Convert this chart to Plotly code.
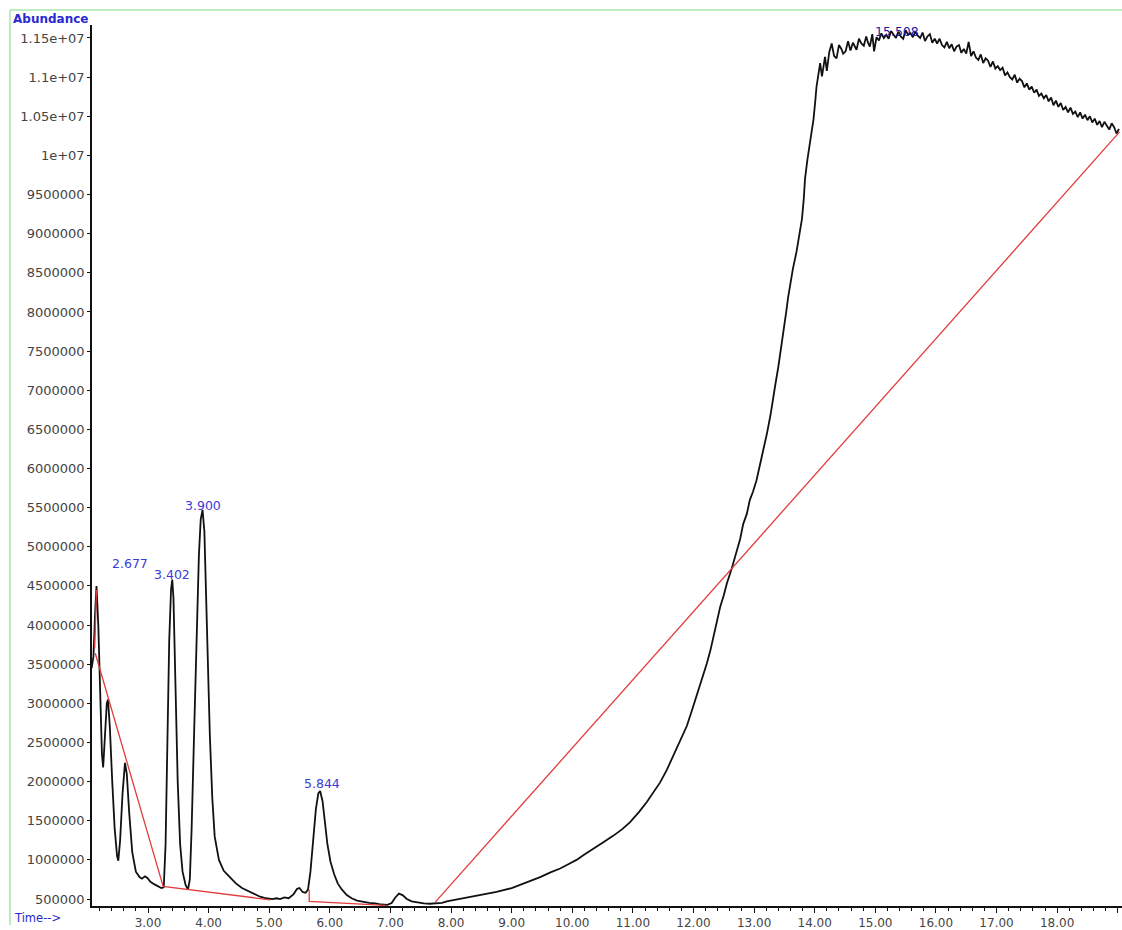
import plotly.graph_objects as go

# ---------------- data ----------------
time_min = [
    2.07, 2.10, 2.13, 2.15, 2.18, 2.21, 2.24, 2.26, 2.29, 2.32, 2.34, 2.37, 2.41, 2.45, 2.49, 2.51,
    2.54, 2.58, 2.62, 2.65, 2.69, 2.74, 2.80, 2.86, 2.90, 2.95, 2.99, 3.04, 3.10, 3.16, 3.22, 3.26,
    3.29, 3.32, 3.35, 3.38, 3.40, 3.42, 3.45, 3.49, 3.53, 3.57, 3.62, 3.66, 3.69, 3.72, 3.76, 3.80,
    3.84, 3.87, 3.90, 3.93, 3.96, 4.00, 4.02, 4.06, 4.10, 4.17, 4.25, 4.35, 4.45, 4.55, 4.65, 4.75,
    4.85, 4.95, 5.05, 5.12, 5.18, 5.25, 5.32, 5.40, 5.46, 5.50, 5.55, 5.60, 5.64, 5.68, 5.72, 5.77,
    5.81, 5.84, 5.88, 5.92, 5.96, 6.01, 6.07, 6.13, 6.20, 6.28, 6.36, 6.45, 6.55, 6.65, 6.75, 6.85,
    6.95, 7.02, 7.08, 7.14, 7.20, 7.27, 7.35, 7.45, 7.55, 7.65, 7.75, 7.85,
    7.93, 8.20, 8.48, 8.75, 9.00, 9.14, 9.30, 9.47, 9.64, 9.80, 9.95, 10.07, 10.20, 10.35, 10.50,
    10.68, 10.82, 10.95, 11.10, 11.23, 11.35, 11.45, 11.56, 11.67, 11.78, 11.89, 11.97, 12.05, 12.14,
    12.22, 12.28, 12.33, 12.39, 12.44, 12.50, 12.55, 12.63, 12.71, 12.77, 12.82, 12.88, 12.93, 12.98,
    13.04, 13.10, 13.16, 13.21, 13.27, 13.31, 13.35, 13.40, 13.44, 13.48, 13.53, 13.56, 13.59, 13.64,
    13.70, 13.75, 13.79, 13.82, 13.84, 13.88, 13.92, 13.95, 13.98, 14.01, 14.03,
    14.09, 14.12, 14.17, 14.20, 14.24, 14.28, 14.32, 14.36, 14.40, 14.44, 14.47, 14.51, 14.55, 14.59,
    14.63, 14.66, 14.69, 14.73, 14.77, 14.81, 14.85, 14.88, 14.91, 14.95, 14.98,
    15.02, 15.06, 15.10, 15.14, 15.18, 15.22, 15.26, 15.30, 15.34, 15.38, 15.42, 15.46, 15.50, 15.54,
    15.58, 15.62, 15.66, 15.70, 15.74, 15.78, 15.82, 15.86, 15.90, 15.94, 15.98,
    16.02, 16.06, 16.10, 16.14, 16.18, 16.22, 16.26, 16.30, 16.34, 16.38, 16.42, 16.46, 16.50, 16.54,
    16.58, 16.62, 16.66, 16.70, 16.74, 16.78, 16.82, 16.86, 16.90, 16.94, 16.98,
    17.02, 17.06, 17.10, 17.14, 17.18, 17.22, 17.26, 17.30, 17.34, 17.38, 17.42, 17.46, 17.50, 17.54,
    17.58, 17.62, 17.66, 17.70, 17.74, 17.78, 17.82, 17.86, 17.90, 17.94, 17.98,
    18.02, 18.06, 18.10, 18.14, 18.18, 18.22, 18.26, 18.30, 18.34, 18.38, 18.42, 18.46, 18.50, 18.54,
    18.58, 18.62, 18.66, 18.70, 18.74, 18.78, 18.82, 18.86, 18.90, 18.94, 18.98, 19.02,
]

abundance_m = [  # millions
    3.45, 3.60, 4.20, 4.50, 4.00, 3.00, 2.35, 2.18, 2.60, 3.00, 3.05, 2.70, 2.00, 1.40, 1.05, 0.99,
    1.25, 1.85, 2.24, 2.10, 1.60, 1.10, 0.85, 0.78, 0.76, 0.79, 0.77, 0.72, 0.69, 0.66, 0.64, 0.65,
    1.20, 2.50, 3.80, 4.45, 4.58, 4.35, 3.30, 2.00, 1.20, 0.85, 0.68, 0.62, 0.75, 1.40, 2.60, 3.90,
    4.90, 5.35, 5.47, 5.20, 4.30, 3.20, 2.60, 1.80, 1.30, 1.00, 0.86, 0.78, 0.70, 0.64, 0.60, 0.56,
    0.53, 0.51, 0.50, 0.51, 0.50, 0.52, 0.51, 0.56, 0.63, 0.64, 0.59, 0.58, 0.62, 0.85, 1.25, 1.65,
    1.85, 1.88, 1.75, 1.45, 1.20, 0.98, 0.82, 0.70, 0.62, 0.55, 0.51, 0.48, 0.46, 0.45, 0.445, 0.43,
    0.425, 0.45, 0.52, 0.57, 0.55, 0.50, 0.47, 0.455, 0.445, 0.44, 0.445, 0.45,
    0.47, 0.51, 0.55, 0.59, 0.64, 0.68, 0.73, 0.78, 0.84, 0.89, 0.95, 1.00, 1.07, 1.14, 1.22,
    1.31, 1.39, 1.48, 1.61, 1.74, 1.87, 1.99, 2.15, 2.33, 2.51, 2.71, 2.90, 3.09, 3.30,
    3.51, 3.68, 3.85, 4.03, 4.23, 4.38, 4.53, 4.72, 4.93, 5.10, 5.29, 5.42, 5.60, 5.70,
    5.85, 6.05, 6.25, 6.44, 6.68, 6.85, 7.07, 7.30, 7.50, 7.71, 8.00, 8.18, 8.34, 8.55,
    8.77, 9.00, 9.19, 9.45, 9.70, 9.95, 10.16, 10.30, 10.46, 10.70, 10.88,
    11.18, 11.01, 11.26, 11.08, 11.32, 11.43, 11.27, 11.24, 11.41, 11.36, 11.30, 11.33, 11.46, 11.34,
    11.44, 11.39, 11.35, 11.49, 11.43, 11.40, 11.52, 11.44, 11.39, 11.55, 11.33,
    11.51, 11.47, 11.56, 11.50, 11.54, 11.49, 11.59, 11.55, 11.50, 11.58, 11.52, 11.49, 11.60, 11.54,
    11.56, 11.51, 11.58, 11.53, 11.50, 11.57, 11.46, 11.52, 11.55, 11.44, 11.49,
    11.43, 11.49, 11.41, 11.38, 11.45, 11.37, 11.42, 11.33, 11.39, 11.41, 11.31, 11.36, 11.30, 11.45,
    11.27, 11.33, 11.25, 11.22, 11.29, 11.18, 11.24, 11.21, 11.13, 11.20, 11.11,
    11.14, 11.09, 11.12, 11.02, 11.06, 11.00, 10.97, 11.03, 10.93, 10.98, 10.95, 10.87, 10.92, 10.84,
    10.88, 10.80, 10.84, 10.76, 10.79, 10.73, 10.77, 10.69, 10.74, 10.64, 10.70,
    10.62, 10.67, 10.58, 10.62, 10.55, 10.61, 10.53, 10.56, 10.49, 10.55, 10.47, 10.52, 10.45, 10.50,
    10.42, 10.47, 10.39, 10.44, 10.36, 10.43, 10.38, 10.33, 10.41, 10.36, 10.28, 10.34,
]
abundance = [v * 1e6 for v in abundance_m]

# integration baselines (segments separated by None)
baseline_t = [2.12, 2.15, None, 2.13, 3.25, 5.02, None, 5.66, 5.66, 6.92, None, 7.74, 19.03]
baseline_a = [3.70e6, 4.45e6, None, 3.64e6, 0.66e6, 0.49e6, None, 0.62e6, 0.47e6, 0.42e6, None, 0.46e6, 10.30e6]

# peak labels
peak_labels = ["2.677", "3.402", "3.900", "5.844", "15.508"]
peak_label_t = [2.70, 3.396, 3.908, 5.87, 15.36]
peak_label_a = [4.79e6, 4.65e6, 5.53e6, 1.97e6, 11.58e6]
peak_label_colors = ["#3b3bd6", "#3b3bd6", "#3b3bd6", "#3b3bd6", "#1a1aa8"]

# y tick labels
y_tick_vals = [500000 * k for k in range(1, 24)]
y_tick_text = ["500000", "1000000", "1500000", "2000000", "2500000", "3000000", "3500000",
               "4000000", "4500000", "5000000", "5500000", "6000000", "6500000", "7000000",
               "7500000", "8000000", "8500000", "9000000", "9500000", "1e+07", "1.05e+07",
               "1.1e+07", "1.15e+07"]

# ---------------- figure ----------------
fig = go.Figure()
fig.add_trace(go.Scatter(x=time_min, y=abundance, mode="lines",
                         line=dict(color="#111111", width=1.8), showlegend=False,
                         hoverinfo="skip"))
fig.add_trace(go.Scatter(x=baseline_t, y=baseline_a, mode="lines",
                         line=dict(color="#e23c3c", width=1.3), showlegend=False,
                         connectgaps=False, hoverinfo="skip"))

for txt, t, a, c in zip(peak_labels, peak_label_t, peak_label_a, peak_label_colors):
    fig.add_annotation(x=t, y=a, text=txt, showarrow=False, xanchor="center", yanchor="middle",
                       font=dict(family="DejaVu Sans", size=12.5, color=c))

L, R, T, B = 92, 0, 25, 19
W, H = 1122, 930
pw, ph = W - L - R, H - T - B


def px_x(p):
    return (p - L) / pw


def px_y(p):
    return (H - B - p) / ph


# light green frame
fig.add_shape(type="line", xref="paper", yref="paper", x0=px_x(10), x1=px_x(1122),
              y0=px_y(10), y1=px_y(10), line=dict(color="#a8e6a8", width=1.5))
fig.add_shape(type="line", xref="paper", yref="paper", x0=px_x(10), x1=px_x(10),
              y0=px_y(10), y1=px_y(930), line=dict(color="#a8e6a8", width=1.5))

fig.add_annotation(xref="paper", yref="paper", x=px_x(11), y=px_y(19), text="<b>Abundance</b>",
                   showarrow=False, xanchor="left", yanchor="middle",
                   font=dict(family="DejaVu Sans", size=12, color="#2a2ad0"))
fig.add_annotation(xref="paper", yref="paper", x=px_x(12), y=px_y(923), text="Time-->",
                   showarrow=False, xanchor="left", yanchor="middle",
                   font=dict(family="DejaVu Sans", size=11.5, color="#2a2ad0"))

fig.update_layout(
    width=W, height=H,
    margin=dict(l=L, r=R, t=T, b=B, pad=0),
    paper_bgcolor="white", plot_bgcolor="white",
    xaxis=dict(range=[2.076, 19.07], tick0=0, dtick=1, tickformat=".2f",
               showgrid=False, zeroline=False, showline=True, linecolor="#111111", linewidth=1.5,
               ticks="outside", ticklen=5, tickcolor="#111111", tickwidth=1.2,
               minor=dict(dtick=0.2, tick0=0, ticks="outside", ticklen=3, tickcolor="#111111",
                          showgrid=False),
               tickfont=dict(family="DejaVu Sans", size=12, color="#444444")),
    yaxis=dict(range=[411000, 11666000], tickvals=y_tick_vals, ticktext=y_tick_text,
               showgrid=False, zeroline=False, showline=True, linecolor="#111111", linewidth=1.5,
               ticks="outside", ticklen=3, tickcolor="#111111",
               tickfont=dict(family="DejaVu Sans", size=13, color="#444444")),
)

fig.write_html("out.html", config={"displayModeBar": False},
               post_script="document.body.style.margin='0px';")
